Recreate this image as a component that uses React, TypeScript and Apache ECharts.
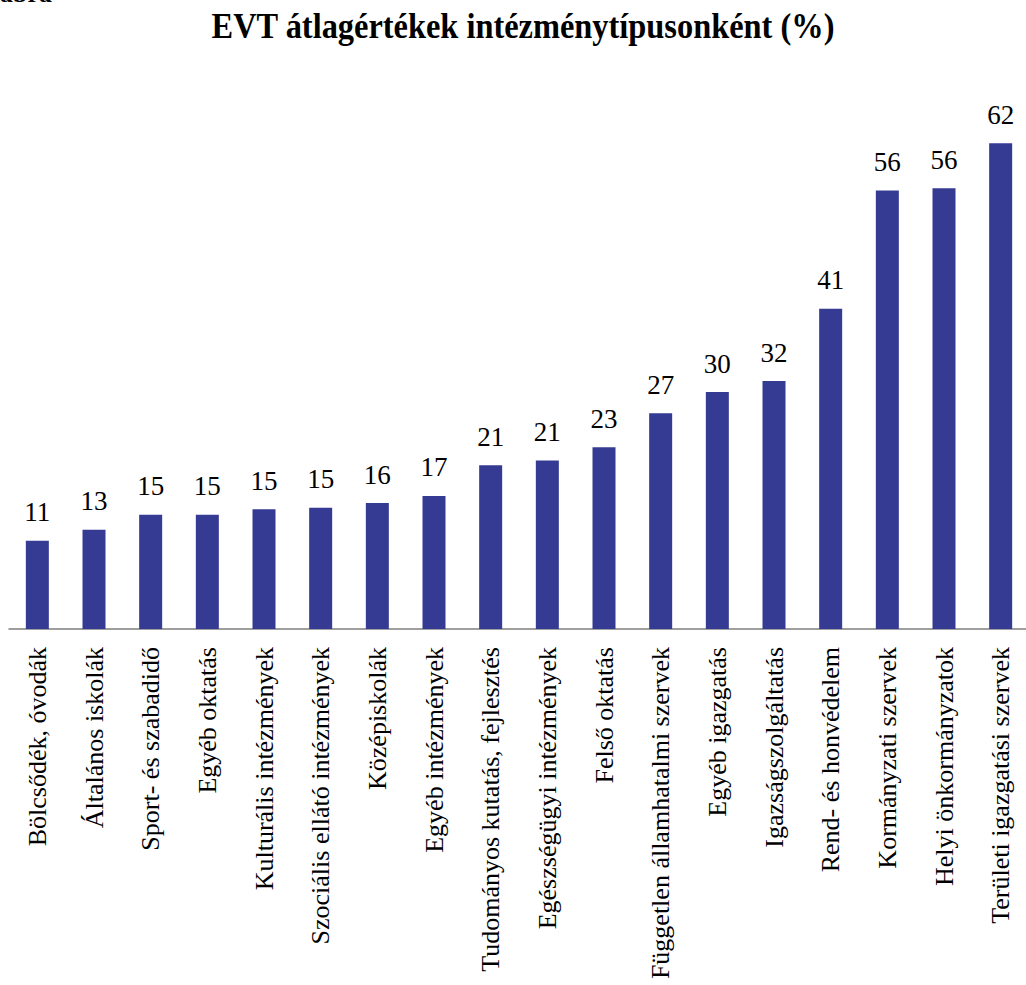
import React, { useEffect, useRef } from "react";
import * as echarts from "echarts";

const categories = [
  "Bölcsődék, óvodák",
  "Általános iskolák",
  "Sport- és szabadidő",
  "Egyéb oktatás",
  "Kulturális intézmények",
  "Szociális ellátó intézmények",
  "Középiskolák",
  "Egyéb intézmények",
  "Tudományos kutatás, fejlesztés",
  "Egészségügyi intézmények",
  "Felső oktatás",
  "Független államhatalmi szervek",
  "Egyéb igazgatás",
  "Igazságszolgáltatás",
  "Rend- és honvédelem",
  "Kormányzati szervek",
  "Helyi önkormányzatok",
  "Területi igazgatási szervek",
];

const values = [
  11.2, 12.6, 14.5, 14.5, 15.2, 15.4, 16.0, 16.9, 20.8, 21.4, 23.1, 27.4, 30.1,
  31.5, 40.7, 55.7, 56.0, 61.7,
];

const titleText = "EVT átlagértékek intézménytípusonként (%)";
const cornerText = "ábra";

const SERIF = "'Liberation Serif', 'Times New Roman', serif";

export default function App() {
  const ref = useRef<HTMLDivElement>(null);
  useEffect(() => {
    if (!ref.current) return;
    const chart = echarts.init(ref.current, null, { renderer: "svg" });
    chart.setOption({
      animation: false,
      backgroundColor: "#ffffff",
      graphic: [
        {
          type: "text",
          x: 523,
          y: 7,
          scaleX: 0.9,
          style: {
            text: titleText,
            font: "bold 36px " + SERIF,
            fill: "#000",
            align: "center",
            verticalAlign: "top",
          },
        },
        {
          type: "text",
          x: 0,
          y: -20,
          style: {
            text: cornerText,
            font: "bold 26px " + SERIF,
            fill: "#000",
            verticalAlign: "top",
          },
        },
      ],
      grid: {
        left: 9,
        right: -3,
        top: 78,
        bottom: 356,
        containLabel: false,
        outerBoundsMode: "none",
      },
      xAxis: {
        type: "category",
        data: categories,
        axisLine: { show: true, lineStyle: { color: "#7f7f7f", width: 1.5 } },
        axisTick: { show: false },
        axisLabel: {
          rotate: 90,
          interval: 0,
          margin: 18,
          fontSize: 26,
          fontFamily: SERIF,
          color: "#000",
        },
      },
      yAxis: {
        type: "value",
        min: 0,
        max: 70,
        show: false,
        splitLine: { show: false },
      },
      series: [
        {
          type: "bar",
          data: values,
          barWidth: 23,
          itemStyle: { color: "#353a92" },
          label: {
            show: true,
            position: "top",
            distance: 15,
            fontSize: 27,
            fontFamily: SERIF,
            color: "#000",
            formatter: (p: any) => Math.round(p.value).toString(),
          },
        },
      ],
    });
    return () => chart.dispose();
  }, []);
  return (
    <div
      ref={ref}
      style={{ position: "absolute", left: 0, top: 0, width: 1026, height: 985 }}
    />
  );
}
